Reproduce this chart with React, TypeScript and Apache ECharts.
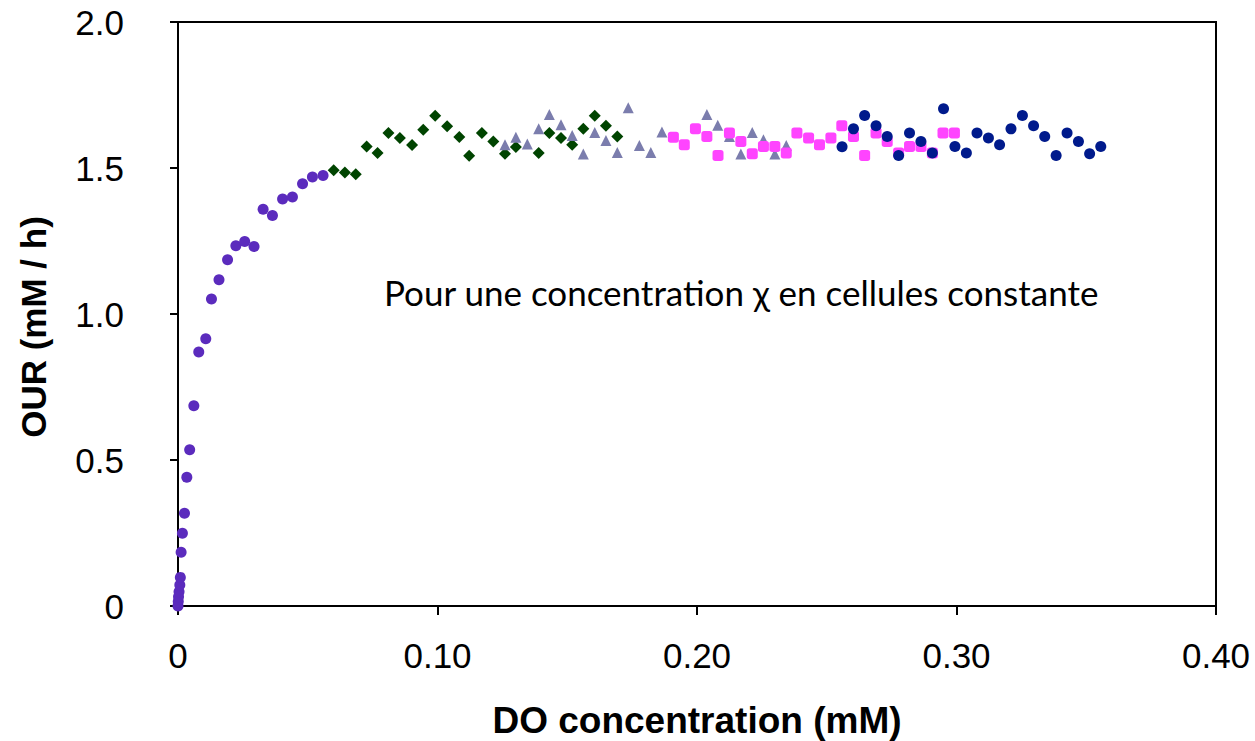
import React, { useEffect, useRef } from "react";
import * as echarts from "echarts";

// Axis ticks
const xTickValues = [0, 0.1, 0.2, 0.3, 0.4];
const yTickValues = [0, 0.5, 1.0, 1.5, 2.0];

// Series: [DO concentration (mM), OUR (mM/h)]
const purpleCircles: number[][] = [
  [0.0, 0.0], [0.0001, 0.015], [0.0002, 0.032], [0.0004, 0.049], [0.0007, 0.072],
  [0.0009, 0.098], [0.0012, 0.184], [0.0017, 0.249], [0.0025, 0.318], [0.0034, 0.441],
  [0.0045, 0.535], [0.0061, 0.686], [0.008, 0.87], [0.0107, 0.915], [0.0129, 1.051],
  [0.0158, 1.117], [0.0191, 1.186], [0.0223, 1.234], [0.0257, 1.248], [0.0293, 1.231],
  [0.0328, 1.359], [0.0364, 1.337], [0.0403, 1.394], [0.0441, 1.401], [0.048, 1.446],
  [0.0518, 1.469], [0.0559, 1.474],
];

const greenDiamonds: number[][] = [
  [0.06, 1.492], [0.0643, 1.485], [0.0685, 1.479], [0.0727, 1.574], [0.0769, 1.551],
  [0.0811, 1.62], [0.0855, 1.603], [0.0902, 1.579], [0.0945, 1.631], [0.0991, 1.679],
  [0.1037, 1.643], [0.1084, 1.606], [0.1122, 1.542], [0.1171, 1.62], [0.1215, 1.591],
  [0.126, 1.549], [0.1302, 1.572], [0.139, 1.551], [0.1431, 1.62], [0.1476, 1.603],
  [0.1519, 1.58], [0.1562, 1.634], [0.1606, 1.679], [0.1649, 1.645], [0.1693, 1.608],
];

const greyTriangles: number[][] = [
  [0.126, 1.58], [0.1302, 1.605], [0.1346, 1.582], [0.139, 1.634], [0.1431, 1.683],
  [0.1476, 1.648], [0.1519, 1.611], [0.1562, 1.548], [0.1606, 1.622], [0.1649, 1.594],
  [0.1693, 1.553], [0.1735, 1.706], [0.1778, 1.577], [0.1822, 1.553], [0.1865, 1.623],
  [0.2038, 1.683], [0.208, 1.646], [0.2125, 1.608], [0.2169, 1.548], [0.2213, 1.622],
  [0.2256, 1.597], [0.23, 1.548], [0.2344, 1.577],
];

const magentaSquares: number[][] = [
  [0.1909, 1.605], [0.1951, 1.58], [0.1994, 1.634], [0.2038, 1.608], [0.2081, 1.543],
  [0.2125, 1.62], [0.2169, 1.591], [0.2213, 1.549], [0.2256, 1.574], [0.23, 1.574],
  [0.2344, 1.551], [0.2385, 1.62], [0.243, 1.603], [0.2472, 1.58], [0.2516, 1.603],
  [0.2558, 1.645], [0.2603, 1.608], [0.2646, 1.543], [0.269, 1.62], [0.2733, 1.591],
  [0.2777, 1.551], [0.2819, 1.574], [0.2863, 1.574], [0.2907, 1.551], [0.2948, 1.62],
  [0.2992, 1.62],
];

const navyCircles: number[][] = [
  [0.2559, 1.573], [0.2603, 1.634], [0.2646, 1.68], [0.269, 1.645], [0.2733, 1.608],
  [0.2777, 1.543], [0.2819, 1.62], [0.2863, 1.591], [0.2907, 1.551], [0.295, 1.703],
  [0.2994, 1.574], [0.3038, 1.551], [0.3079, 1.62], [0.3123, 1.603], [0.3166, 1.58],
  [0.321, 1.634], [0.3254, 1.68], [0.3297, 1.645], [0.334, 1.608], [0.3384, 1.543],
  [0.3426, 1.62], [0.347, 1.591], [0.3513, 1.549], [0.3556, 1.574],
];

const xTitle = "DO concentration (mM)";
const yTitle = "OUR (mM / h)";
const annotation = "Pour une concentration \u03C7 en cellules constante";

const SANS = "'Liberation Sans', Arial, Helvetica, sans-serif";

export default function App() {
  const ref = useRef<HTMLDivElement>(null);

  useEffect(() => {
    document.body.style.margin = "0";
    document.body.style.overflow = "hidden";
    const chart = echarts.init(ref.current!, null, { renderer: "svg" });
    const scatter = (name: string, data: number[][], symbol: string, size: any, color: string) => ({
      type: "scatter",
      name,
      data,
      symbol,
      symbolSize: size,
      itemStyle: { color, opacity: 1 },
    });
    chart.setOption({
      animation: false,
      backgroundColor: "#ffffff",
      grid: {
        show: true,
        left: 178,
        right: 39,
        top: 22,
        bottom: 135,
        containLabel: false,
        outerBoundsMode: "none",
        borderColor: "#000",
        borderWidth: 2,
        backgroundColor: "transparent",
      },
      xAxis: {
        type: "value",
        min: xTickValues[0],
        max: xTickValues[xTickValues.length - 1],
        interval: 0.1,
        name: xTitle,
        nameLocation: "middle",
        nameGap: 96,
        nameTextStyle: {
          fontFamily: SANS,
          fontSize: 37,
          lineHeight: 37,
          fontWeight: "bold",
          color: "#000",
        },
        axisLine: { show: true, lineStyle: { color: "#000", width: 2 } },
        axisTick: { show: true, length: 9, lineStyle: { color: "#000", width: 2 } },
        axisLabel: {
          fontFamily: SANS,
          fontSize: 35,
          color: "#000",
          margin: 32,
          formatter: (v: number) => (v === 0 ? "0" : v.toFixed(2)),
        },
        splitLine: { show: false },
      },
      yAxis: {
        type: "value",
        min: yTickValues[0],
        max: yTickValues[yTickValues.length - 1],
        interval: 0.5,
        axisLine: { show: true, lineStyle: { color: "#000", width: 2 } },
        axisTick: { show: true, length: 8, lineStyle: { color: "#000", width: 2 } },
        axisLabel: {
          fontFamily: SANS,
          fontSize: 35,
          color: "#000",
          margin: 54,
          formatter: (v: number) => (v === 0 ? "0" : v.toFixed(1)),
        },
        splitLine: { show: false },
      },
      graphic: [
        {
          type: "text",
          x: 33,
          y: 327,
          rotation: Math.PI / 2,
          style: {
            text: yTitle,
            fontFamily: SANS,
            fontSize: 35,
            fontWeight: "bold",
            fill: "#000",
            align: "center",
            verticalAlign: "middle",
          },
        },
        {
          type: "text",
          x: 384,
          y: 292,
          style: {
            text: annotation,
            fontFamily: "Lato, 'Open Sans', sans-serif",
            fontSize: 35,
            fill: "#000",
            align: "left",
            verticalAlign: "middle",
          },
        },
      ],
      series: [
        scatter("purple", purpleCircles, "circle", 11, "#5B2BBD"),
        scatter("green", greenDiamonds, "diamond", [12, 12], "#004400"),
        scatter("grey", greyTriangles, "triangle", 11, "#7B7DAD"),
        scatter("magenta", magentaSquares, "roundRect", 11, "#FF44FF"),
        scatter("navy", navyCircles, "circle", 11, "#001A8C"),
      ],
    });
    return () => chart.dispose();
  }, []);

  return <div ref={ref} style={{ width: 1255, height: 741, overflow: "hidden" }} />;
}
